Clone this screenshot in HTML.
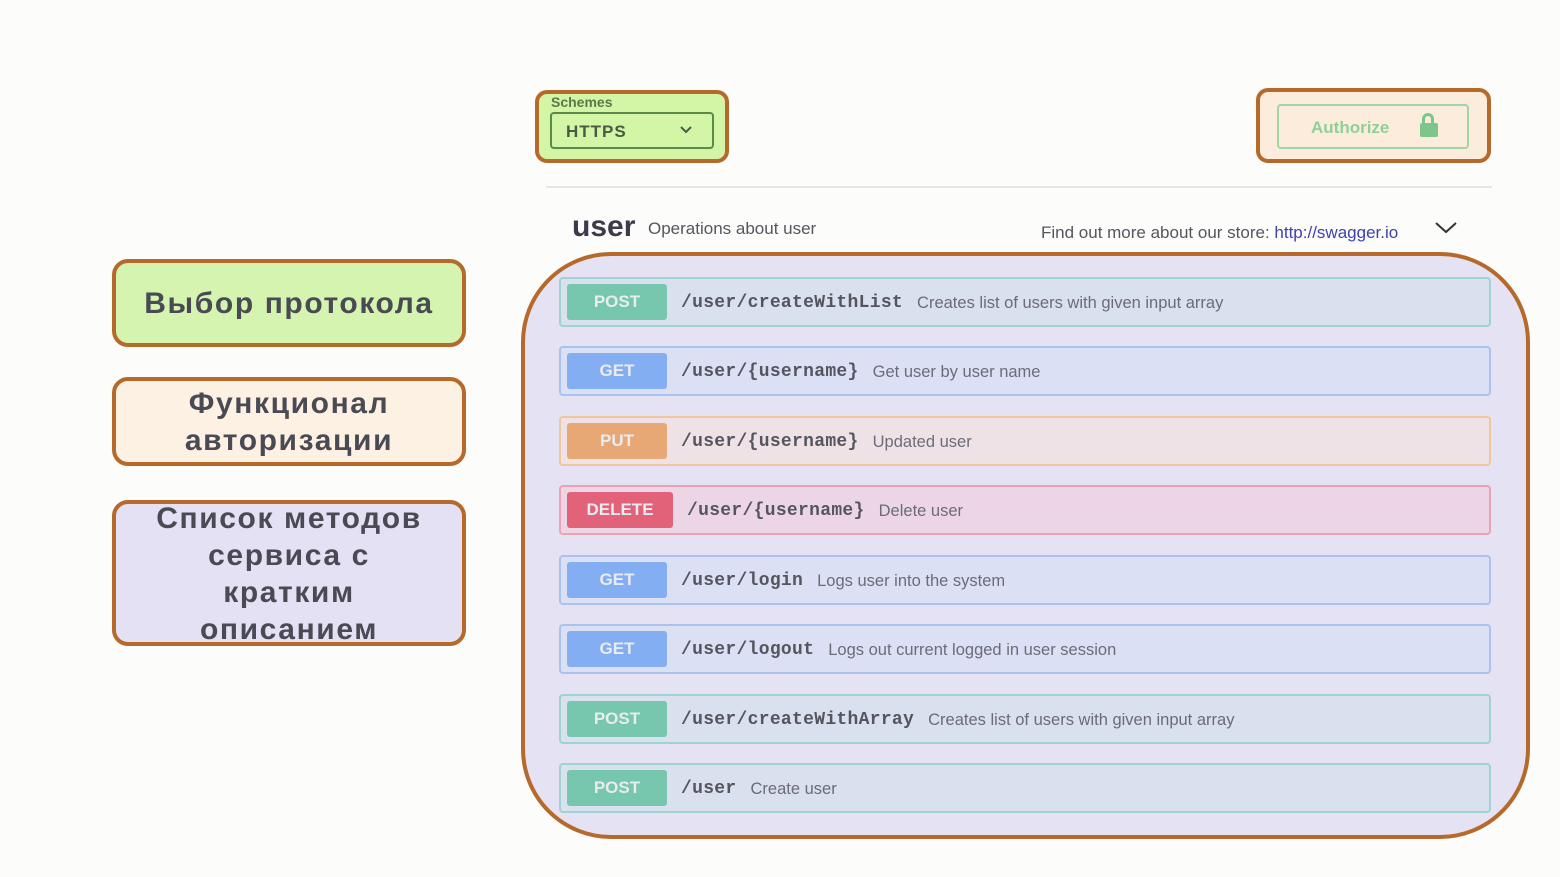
<!DOCTYPE html>
<html><head><meta charset="utf-8"><style>
*{box-sizing:border-box;margin:0;padding:0}
body{width:1560px;height:877px;background:#fcfcfb;position:relative;overflow:hidden;font-family:"Liberation Sans",sans-serif}
.abs{position:absolute}
.lb{position:absolute;left:112px;width:354px;border:4px solid #b5692a;border-radius:16px;display:flex;align-items:center;justify-content:center;text-align:center;font-weight:bold;font-size:30px;line-height:37px;color:#4a4a54;letter-spacing:1.6px}
.row{position:absolute;left:559px;width:932px;height:50px;border:2px solid;border-radius:4px;display:flex;align-items:center;padding-top:2px}
.bd{margin-left:6px;width:100px;height:36px;border-radius:3px;color:#e8ecf0;font-weight:bold;font-size:17px;display:flex;align-items:center;justify-content:center;margin-top:-2px}
.pt{font-family:"Liberation Mono",monospace;font-weight:bold;font-size:18px;color:#55555f;margin-left:14px;letter-spacing:0.3px}
.ds{font-size:16.5px;color:#6c6c78;margin-left:14px}
.post{border-color:#9fd2d0;background:#d9e0ee}.post .bd{background:#76c7ad}
.get{border-color:#a9c2ee;background:#dbe0f4}.get .bd{background:#84aef2}
.put{border-color:#efc79e;background:#eee2e6}.put .bd{background:#e8a876}
.del{border-color:#e9a3b4;background:#ecd6e6}.del .bd{background:#e26279;width:106px}
</style></head><body>
<div class="lb" style="top:259px;height:88px;background:#d4f4b0">Выбор протокола</div>
<div class="lb" style="top:377px;height:89px;background:#fdf1e4">Функционал<br>авторизации</div>
<div class="lb" style="top:500px;height:146px;background:#e5e1f4;padding-top:2px">Список методов<br>сервиса с<br>кратким<br>описанием</div>

<div class="abs" style="left:535px;top:90px;width:194px;height:73px;border:4px solid #b5692a;border-radius:12px;background:#d2f5a6"></div>
<div class="abs" style="left:551px;top:94px;font-size:14px;color:#5b7a4a;font-weight:bold">Schemes</div>
<div class="abs" style="left:550px;top:112px;width:164px;height:37px;border:2px solid #5d8a4a;border-radius:4px;font-weight:bold;font-size:17px;color:#4a5a44;padding:8px 0 0 14px;letter-spacing:1px">HTTPS</div>
<svg class="abs" style="left:679px;top:125px" width="14" height="10"><polyline points="2,2 7,7 12,2" fill="none" stroke="#4a5a44" stroke-width="2"/></svg>

<div class="abs" style="left:1256px;top:88px;width:235px;height:75px;border:4px solid #b5692a;border-radius:12px;background:#fcecdc"></div>
<div class="abs" style="left:1277px;top:104px;width:192px;height:45px;border:2px solid #9fd6a4;border-radius:4px;font-weight:bold;font-size:17px;color:#8fd09a;padding:12px 0 0 32px">Authorize</div>
<div class="abs" style="left:1420px;top:123px;width:18px;height:14px;background:#7cc68c;border-radius:2px"></div>
<div class="abs" style="left:1422px;top:113px;width:12px;height:13px;border:3px solid #7cc68c;border-bottom:none;border-radius:6px 6px 0 0"></div>

<div class="abs" style="left:546px;top:186px;width:946px;height:2px;background:#e6e6e8"></div>
<div class="abs" style="left:572px;top:210px;font-size:30px;font-weight:bold;color:#3b3b4a">user</div>
<div class="abs" style="left:648px;top:219px;font-size:17px;color:#55555f">Operations about user</div>
<div class="abs" style="left:1041px;top:223px;font-size:17px;color:#55555f">Find out more about our store: <span style="color:#4040b0">http://swagger.io</span></div>
<svg class="abs" style="left:1434px;top:220px" width="24" height="16"><polyline points="2,3 12,12 22,3" fill="none" stroke="#333" stroke-width="2"/></svg>

<div class="abs" style="left:521px;top:252px;width:1009px;height:587px;border:4px solid #b5692a;border-radius:90px;background:#e5e2f4"></div>

<div class="row post" style="top:277px"><div class="bd">POST</div><span class="pt">/user/createWithList</span><span class="ds">Creates list of users with given input array</span></div>
<div class="row get" style="top:346px"><div class="bd">GET</div><span class="pt">/user/{username}</span><span class="ds">Get user by user name</span></div>
<div class="row put" style="top:416px"><div class="bd">PUT</div><span class="pt">/user/{username}</span><span class="ds">Updated user</span></div>
<div class="row del" style="top:485px"><div class="bd">DELETE</div><span class="pt">/user/{username}</span><span class="ds">Delete user</span></div>
<div class="row get" style="top:555px"><div class="bd">GET</div><span class="pt">/user/login</span><span class="ds">Logs user into the system</span></div>
<div class="row get" style="top:624px"><div class="bd">GET</div><span class="pt">/user/logout</span><span class="ds">Logs out current logged in user session</span></div>
<div class="row post" style="top:694px"><div class="bd">POST</div><span class="pt">/user/createWithArray</span><span class="ds">Creates list of users with given input array</span></div>
<div class="row post" style="top:763px"><div class="bd">POST</div><span class="pt">/user</span><span class="ds">Create user</span></div>
</body></html>
